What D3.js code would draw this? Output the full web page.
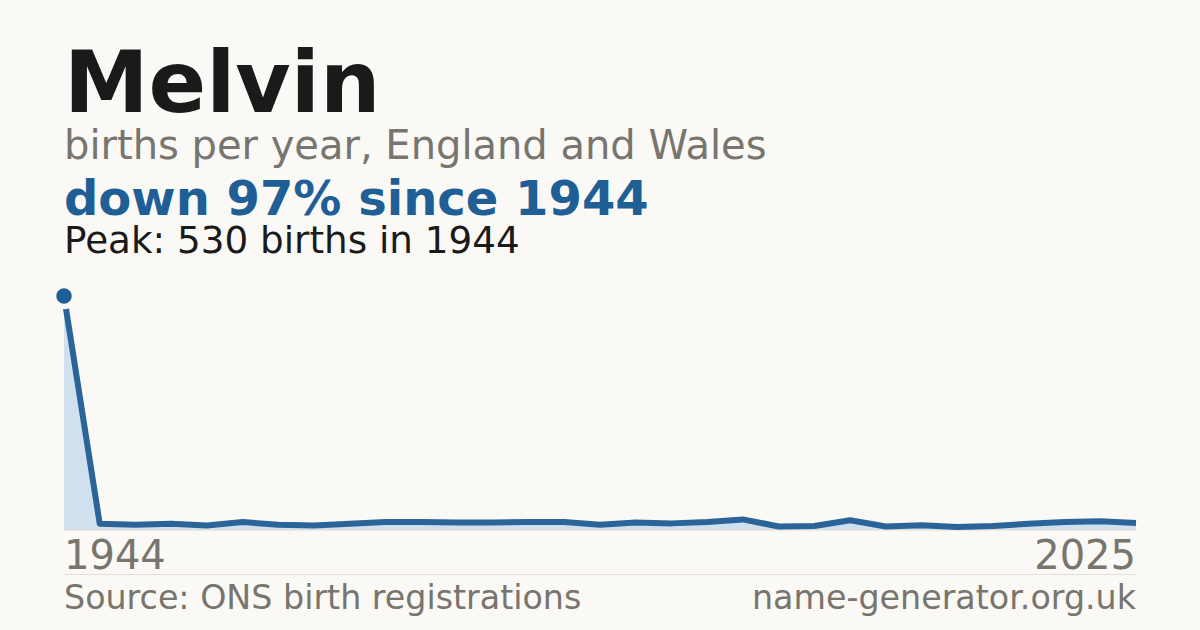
<!DOCTYPE html>
<html>
<head>
<meta charset="utf-8">
<script src="https://cdn.jsdelivr.net/npm/d3@7"></script>
<style>
  html, body { margin: 0; padding: 0; background: #faf9f5; }
  svg { display: block; }
  text { font-family: "DejaVu Sans", sans-serif; }
</style>
</head>
<body>
<svg id="chart" width="1200" height="630"></svg>
<script>
const years = [1944, 1996, 1997, 1998, 1999, 2000, 2001, 2002, 2003, 2004, 2005, 2006, 2007, 2008, 2009, 2010,
  2011, 2012, 2013, 2014, 2015, 2016, 2017, 2018, 2019, 2020, 2021, 2022, 2023, 2024, 2025];
const births = [530, 14, 12, 14, 10, 18, 12, 10, 14, 18, 18, 17, 17, 18, 18, 12,
  17, 15, 18, 24, 8, 9, 22, 8, 11, 7, 9, 14, 18, 20, 16];
const axisLabels = ["1944", "2025"];
const titleText = "Melvin";
const subtitleText = "births per year, England and Wales";
const changeText = "down 97% since 1944";
const peakText = "Peak: 530 births in 1944";
const sourceText = "Source: ONS birth registrations";
const siteText = "name-generator.org.uk";

const svg = d3.select("#chart");
svg.append("rect").attr("width", 1200).attr("height", 630).attr("fill", "#faf9f5");

const x = d3.scalePoint().domain(d3.range(years.length)).range([64, 1136]);
const y = d3.scaleLinear().domain([0, d3.max(births)]).range([530, 296]);

const data = births.map((v, i) => ({ i, v }));

svg.append("path")
  .datum(data)
  .attr("fill", "#d1e0ef")
  .attr("d", d3.area().x(d => x(d.i)).y0(y(0)).y1(d => y(d.v)));

svg.append("line")
  .attr("x1", 64).attr("x2", 1136).attr("y1", y(0)).attr("y2", y(0))
  .attr("stroke", "#dedbd4").attr("stroke-width", 1);

svg.append("path")
  .datum(data)
  .attr("fill", "none")
  .attr("stroke", "#2a6499")
  .attr("stroke-width", 6)
  .attr("stroke-linejoin", "round")
  .attr("d", d3.line().x(d => x(d.i)).y(d => y(d.v)));

const peakIdx = births.indexOf(d3.max(births));
svg.append("circle")
  .attr("cx", x(peakIdx)).attr("cy", y(births[peakIdx]))
  .attr("r", 10.5)
  .attr("fill", "#1f5f96")
  .attr("stroke", "#faf9f5")
  .attr("stroke-width", 5.5);

svg.append("text").attr("x", 64).attr("y", 112)
  .attr("font-size", 85).attr("font-weight", "bold").attr("fill", "#1a1a1a").text(titleText);
svg.append("text").attr("x", 64).attr("y", 159)
  .attr("font-size", 40).attr("fill", "#78746e").text(subtitleText);
svg.append("text").attr("x", 64).attr("y", 215)
  .attr("font-size", 48).attr("font-weight", "bold").attr("fill", "#1f5f96").text(changeText);
svg.append("text").attr("x", 64).attr("y", 253)
  .attr("font-size", 37.3).attr("fill", "#1a1a1a").text(peakText);

svg.append("text").attr("x", 64).attr("y", 569)
  .attr("font-size", 40).attr("fill", "#78746e").text(axisLabels[0]);
svg.append("text").attr("x", 1136).attr("y", 569).attr("text-anchor", "end")
  .attr("font-size", 40).attr("fill", "#78746e").text(axisLabels[1]);

svg.append("line")
  .attr("x1", 64).attr("x2", 1136).attr("y1", 574.5).attr("y2", 574.5)
  .attr("stroke", "#e2dfd9").attr("stroke-width", 1);

svg.append("text").attr("x", 64).attr("y", 609)
  .attr("font-size", 33.3).attr("fill", "#78746e").text(sourceText);
svg.append("text").attr("x", 1136).attr("y", 609).attr("text-anchor", "end")
  .attr("font-size", 33.3).attr("fill", "#78746e").text(siteText);
</script>
</body>
</html>
